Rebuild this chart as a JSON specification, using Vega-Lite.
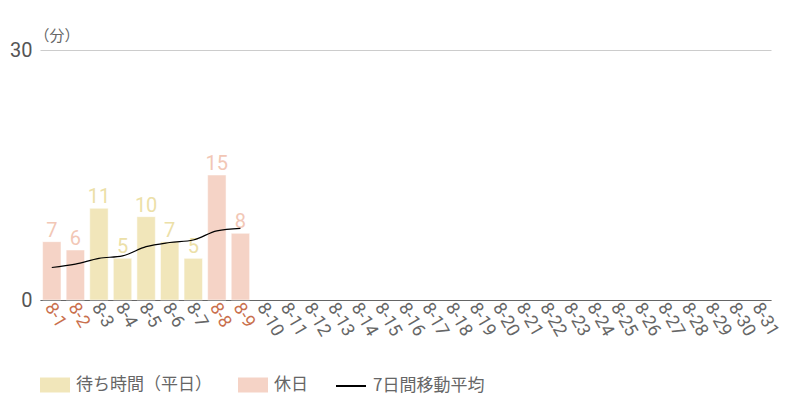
{
  "$schema": "https://vega.github.io/schema/vega-lite/v6.json",
  "autosize": "none",
  "width": 731,
  "height": 250,
  "padding": {"left": 40, "top": 50, "right": 29, "bottom": 100},
  "background": "white",
  "data": {
    "values": [
      {"date": "8-1", "wait": 7, "type": "休日", "ma": 3.9},
      {"date": "8-2", "wait": 6, "type": "休日", "ma": 4.3},
      {"date": "8-3", "wait": 11, "type": "待ち時間（平日）", "ma": 5.0},
      {"date": "8-4", "wait": 5, "type": "待ち時間（平日）", "ma": 5.3},
      {"date": "8-5", "wait": 10, "type": "待ち時間（平日）", "ma": 6.4},
      {"date": "8-6", "wait": 7, "type": "待ち時間（平日）", "ma": 6.9},
      {"date": "8-7", "wait": 5, "type": "待ち時間（平日）", "ma": 7.2},
      {"date": "8-8", "wait": 15, "type": "休日", "ma": 8.3},
      {"date": "8-9", "wait": 8, "type": "休日", "ma": 8.6},
      {"date": "8-10"}, {"date": "8-11"}, {"date": "8-12"}, {"date": "8-13"},
      {"date": "8-14"}, {"date": "8-15"}, {"date": "8-16"}, {"date": "8-17"},
      {"date": "8-18"}, {"date": "8-19"}, {"date": "8-20"}, {"date": "8-21"},
      {"date": "8-22"}, {"date": "8-23"}, {"date": "8-24"}, {"date": "8-25"},
      {"date": "8-26"}, {"date": "8-27"}, {"date": "8-28"}, {"date": "8-29"},
      {"date": "8-30"}, {"date": "8-31"}
    ]
  },
  "encoding": {
    "x": {
      "field": "date", "type": "ordinal", "sort": null, "title": null,
      "scale": {"paddingInner": 0.22, "paddingOuter": 0.11},
      "axis": {
        "labelAngle": 60, "labelAlign": "left", "labelBaseline": "middle",
        "labelPadding": 4, "labelOffset": -3, "ticks": false,
        "labelFont": "Roboto", "labelFontSize": 18,
        "labelColor": {
          "condition": {"test": "indexof(['8-1','8-2','8-8','8-9'], datum.value) >= 0", "value": "#c9704e"},
          "value": "#666666"
        },
        "domainColor": "#666666", "domainWidth": 1, "grid": false
      }
    }
  },
  "layer": [
    {
      "mark": {"type": "text", "text": ""},
      "encoding": {}
    },
    {
      "mark": {"type": "bar", "stroke": "#ffffff", "strokeOpacity": 0.5, "strokeWidth": 1},
      "encoding": {
        "y": {
          "field": "wait", "type": "quantitative",
          "scale": {"domain": [0, 30]},
          "axis": {
            "values": [0, 30], "ticks": false, "domain": false,
            "labelPadding": 8, "labelFont": "Roboto",
            "labelFontSize": 20, "labelColor": "#555555",
            "gridColor": "#cccccc", "gridWidth": 1,
            "title": "（分）", "titleAngle": 0, "titleX": -6, "titleY": -7,
            "titleAlign": "left", "titleBaseline": "bottom",
            "titleFont": "Noto Sans CJK JP", "titleFontSize": 15,
            "titleFontWeight": "normal", "titleColor": "#666666"
          }
        },
        "color": {
          "field": "type", "type": "nominal",
          "scale": {
            "domain": ["待ち時間（平日）", "休日"],
            "range": ["#f1e6ba", "#f5d3c6"]
          },
          "legend": {
            "orient": "none", "legendX": 0, "legendY": 320,
            "direction": "horizontal", "title": null, "padding": 0,
            "columnPadding": 26, "labelOffset": 6,
            "labelFont": "Noto Sans CJK JP", "labelFontSize": 17,
            "labelColor": "#666666",
            "symbolType": "M-1,-0.5H1V0.5H-1Z", "symbolSize": 900,
            "symbolStrokeWidth": 0, "symbolOpacity": 1
          }
        }
      }
    },
    {
      "mark": {"type": "text", "baseline": "bottom", "dy": -1, "font": "Roboto", "fontSize": 20},
      "encoding": {
        "y": {"field": "wait", "type": "quantitative"},
        "text": {"field": "wait", "type": "quantitative"},
        "color": {
          "condition": {"test": "datum.type === '休日'", "value": "#f2c7b6"},
          "value": "#ece0a8"
        }
      }
    },
    {
      "transform": [{"filter": "isValid(datum.ma)"}],
      "mark": {"type": "line", "interpolate": "monotone", "strokeWidth": 1.2},
      "encoding": {
        "y": {"field": "ma", "type": "quantitative"},
        "stroke": {
          "datum": "7日間移動平均",
          "scale": {"domain": ["7日間移動平均"], "range": ["#000000"]},
          "legend": {
            "orient": "none", "legendX": 295, "legendY": 320,
            "direction": "horizontal", "title": null, "padding": 0,
            "labelOffset": 6,
            "labelFont": "Noto Sans CJK JP", "labelFontSize": 17,
            "labelColor": "#666666",
            "symbolType": "stroke", "symbolSize": 900, "symbolStrokeWidth": 2
          }
        }
      }
    }
  ],
  "config": {
    "view": {"stroke": null},
    "font": "Noto Sans CJK JP"
  }
}
